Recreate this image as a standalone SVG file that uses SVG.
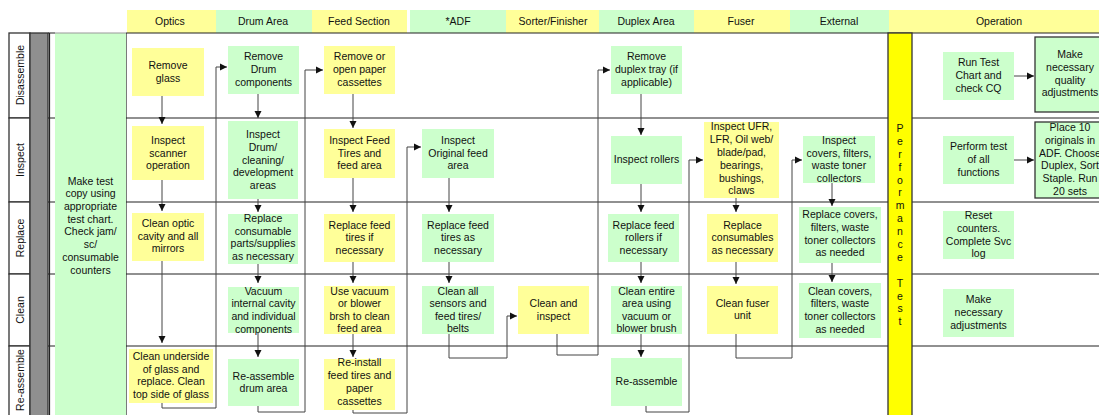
<svg xmlns="http://www.w3.org/2000/svg" width="1099" height="415" viewBox="0 0 1099 415">
<style>
.y{fill:#FFFF99}
.g{fill:#CCFFCC}
.t{font-family:"Liberation Sans",Arial,sans-serif;font-size:10.5px;text-anchor:middle;fill:#111}
.h{font-family:"Liberation Sans",Arial,sans-serif;font-size:10.5px;text-anchor:middle;fill:#111}
.grid{stroke:#222;stroke-width:1.2;fill:none}
.con{stroke:#444;stroke-width:1;fill:none}
.arr{stroke:#444;stroke-width:1;fill:none;marker-end:url(#ah)}
.bx{stroke:#333;stroke-width:1.3}
</style>
<defs>
<marker id="ah" markerWidth="8" markerHeight="8" refX="7" refY="4" orient="auto" markerUnits="userSpaceOnUse">
<path d="M0,0.5 L7,4 L0,7.5 z" fill="#111"/>
</marker>
</defs>
<rect width="1099" height="415" fill="#fff"/>

<g id="header">
<rect x="127" y="10" width="89" height="23" class="y"/>
<rect x="216" y="10" width="96" height="23" class="g"/>
<rect x="312" y="10" width="95" height="23" class="y"/>
<rect x="410" y="10" width="96" height="23" class="g"/>
<rect x="506" y="10" width="93" height="23" class="y"/>
<rect x="599" y="10" width="95" height="23" class="g"/>
<rect x="694" y="10" width="96" height="23" class="y"/>
<rect x="790" y="10" width="99" height="23" class="g"/>
<rect x="889" y="10" width="210" height="23" class="y"/>
<text class="h" x="170" y="25">Optics</text>
<text class="h" x="263" y="25">Drum Area</text>
<text class="h" x="359" y="25">Feed Section</text>
<text class="h" x="458" y="25">*ADF</text>
<text class="h" x="553" y="25">Sorter/Finisher</text>
<text class="h" x="646" y="25">Duplex Area</text>
<text class="h" x="741" y="25">Fuser</text>
<text class="h" x="839" y="25">External</text>
<text class="h" x="999" y="25">Operation</text>
</g>

<g id="lanes">
<rect x="9" y="33" width="21" height="85" fill="#fff" class="bx"/>
<rect x="9" y="118" width="21" height="84" fill="#fff" class="bx"/>
<rect x="9" y="202" width="21" height="72" fill="#fff" class="bx"/>
<rect x="9" y="274" width="21" height="72" fill="#fff" class="bx"/>
<rect x="9" y="346" width="21" height="72" fill="#fff" class="bx"/>
<rect x="30" y="33" width="18" height="385" fill="#8f8f8f" class="bx"/>
<path class="grid" d="M49.5,33 V415 M48,33 H55 M48,118 H55 M48,202 H55 M48,274 H55 M48,346 H55"/>
<text class="h" font-size="10" transform="translate(23.5,75) rotate(-90)">Disassemble</text>
<text class="h" font-size="10" transform="translate(23.5,160) rotate(-90)">Inspect</text>
<text class="h" font-size="10" transform="translate(23.5,238) rotate(-90)">Replace</text>
<text class="h" font-size="10" transform="translate(23.5,310) rotate(-90)">Clean</text>
<text class="h" font-size="10" transform="translate(23.5,380) rotate(-90)">Re-assemble</text>
<path class="grid" d="M126,33 H1099 M126,118 H1099 M126,202 H1099 M126,274 H1099 M126,346 H1099 M126,33 V415"/>
</g>

<g id="n-maketest">
<rect x="55" y="33" width="71" height="382" class="g"/>
<path d="M55,33 H126" stroke="#999" stroke-width="1"/>
<text class="t"><tspan x="90.5" y="184.8">Make test</tspan><tspan x="90.5" y="196.8">copy using</tspan><tspan x="90.5" y="209.8">appropriate</tspan><tspan x="90.5" y="222.8">test chart.</tspan><tspan x="90.5" y="234.8">Check jam/</tspan><tspan x="90.5" y="247.8">sc/</tspan><tspan x="90.5" y="260.8">consumable</tspan><tspan x="90.5" y="273.8">counters</tspan></text>
</g>

<g id="n-perftest">
<rect x="888" y="33" width="24" height="385" fill="#FFFF00" class="bx"/>
<text class="t"><tspan x="900" y="131.8">P</tspan><tspan x="900" y="144.8">e</tspan><tspan x="900" y="157.8">r</tspan><tspan x="900" y="170.8">f</tspan><tspan x="900" y="183.8">o</tspan><tspan x="900" y="195.8">r</tspan><tspan x="900" y="208.8">m</tspan><tspan x="900" y="221.8">a</tspan><tspan x="900" y="234.8">n</tspan><tspan x="900" y="247.8">c</tspan><tspan x="900" y="260.8">e</tspan><tspan x="900" y="286.8">T</tspan><tspan x="900" y="299.8">e</tspan><tspan x="900" y="311.8">s</tspan><tspan x="900" y="324.8">t</tspan></text>
</g>

<g id="connectors">
<path class="arr" d="M162,96 V124"/>
<path class="arr" d="M162,180 V211"/>
<path class="arr" d="M162,261 V343"/>
<path class="arr" d="M258,94 V118"/>
<path class="arr" d="M258,199 V212"/>
<path class="arr" d="M258,264 V283"/>
<path class="arr" d="M258,333 V357"/>
<path class="arr" d="M353,94 V128"/>
<path class="arr" d="M353,178 V212"/>
<path class="arr" d="M353,262 V283"/>
<path class="arr" d="M353,334 V357"/>
<path class="arr" d="M449,178 V212"/>
<path class="arr" d="M449,262 V283"/>
<path class="arr" d="M641,94 V135"/>
<path class="arr" d="M641,184 V212"/>
<path class="arr" d="M641,262 V283"/>
<path class="arr" d="M641,334 V357"/>
<path class="arr" d="M736,198 V212"/>
<path class="arr" d="M736,262 V284"/>
<path class="arr" d="M832,183 V206"/>
<path class="arr" d="M832,263 V282"/>
<path class="arr" d="M162,403 V408 H216 V67 H227"/>
<path class="arr" d="M258,406 V412 H305 V70 H323"/>
<path class="arr" d="M353,410 V413 H407 V147 H421"/>
<path class="arr" d="M449,334 V358 H507 V316 H517"/>
<path class="arr" d="M557,334 V355 H598 V70 H610"/>
<path class="arr" d="M646,406 V412 H689 V160 H703"/>
<path class="arr" d="M736,334 V358 H792 V160 H802"/>
<path class="arr" d="M1014,76 H1034"/>
<path class="arr" d="M1014,160 H1034"/>
</g>

<g id="n1"><rect x="132" y="48" width="72" height="48" class="y"/><text class="t"><tspan x="168" y="68.8">Remove</tspan><tspan x="168" y="81.8">glass</tspan></text></g>
<g id="n2"><rect x="132" y="126" width="72" height="54" class="y"/><text class="t"><tspan x="168" y="143.8">Inspect</tspan><tspan x="168" y="156.8">scanner</tspan><tspan x="168" y="168.8">operation</tspan></text></g>
<g id="n3"><rect x="132" y="213" width="72" height="48" class="y"/><text class="t"><tspan x="168" y="226.8">Clean optic</tspan><tspan x="168" y="239.8">cavity and all</tspan><tspan x="168" y="251.8">mirrors</tspan></text></g>
<g id="n4"><rect x="129" y="349" width="84" height="54" class="y"/><text class="t"><tspan x="171" y="359.8">Clean underside</tspan><tspan x="171" y="372.8">of glass and</tspan><tspan x="171" y="384.8">replace. Clean</tspan><tspan x="171" y="397.8">top side of glass</tspan></text></g>

<g id="n5"><rect x="228" y="46" width="71" height="48" class="g"/><text class="t"><tspan x="263.5" y="59.8">Remove</tspan><tspan x="263.5" y="72.8">Drum</tspan><tspan x="263.5" y="85.8">components</tspan></text></g>
<g id="n6"><rect x="228" y="121" width="70" height="78" class="g"/><text class="t"><tspan x="263" y="137.8">Inspect</tspan><tspan x="263" y="150.8">Drum/</tspan><tspan x="263" y="163.8">cleaning/</tspan><tspan x="263" y="175.8">development</tspan><tspan x="263" y="188.8">areas</tspan></text></g>
<g id="n7"><rect x="228" y="214" width="70" height="50" class="g"/><text class="t"><tspan x="263" y="221.8">Replace</tspan><tspan x="263" y="234.8">consumable</tspan><tspan x="263" y="246.8">parts/supplies</tspan><tspan x="263" y="259.8">as necessary</tspan></text></g>
<g id="n8"><rect x="228" y="287" width="71" height="46" class="g"/><text class="t"><tspan x="263.5" y="294.8">Vacuum</tspan><tspan x="263.5" y="306.8">internal cavity</tspan><tspan x="263.5" y="319.8">and individual</tspan><tspan x="263.5" y="332.8">components</tspan></text></g>
<g id="n9"><rect x="228" y="359" width="71" height="47" class="g"/><text class="t"><tspan x="263.5" y="379.8">Re-assemble</tspan><tspan x="263.5" y="391.8">drum area</tspan></text></g>

<g id="n10"><rect x="324" y="46" width="71" height="48" class="y"/><text class="t"><tspan x="359.5" y="59.8">Remove or</tspan><tspan x="359.5" y="72.8">open paper</tspan><tspan x="359.5" y="85.8">cassettes</tspan></text></g>
<g id="n11"><rect x="324" y="129" width="71" height="49" class="y"/><text class="t"><tspan x="359.5" y="143.8">Inspect Feed</tspan><tspan x="359.5" y="156.8">Tires and</tspan><tspan x="359.5" y="168.8">feed area</tspan></text></g>
<g id="n12"><rect x="324" y="214" width="71" height="48" class="y"/><text class="t"><tspan x="359.5" y="228.8">Replace feed</tspan><tspan x="359.5" y="240.8">tires if</tspan><tspan x="359.5" y="253.8">necessary</tspan></text></g>
<g id="n13"><rect x="324" y="286" width="71" height="48" class="y"/><text class="t"><tspan x="359.5" y="294.8">Use vacuum</tspan><tspan x="359.5" y="306.8">or blower</tspan><tspan x="359.5" y="319.8">brsh to clean</tspan><tspan x="359.5" y="331.8">feed area</tspan></text></g>
<g id="n14"><rect x="324" y="359" width="71" height="51" class="y"/><text class="t"><tspan x="359.5" y="365.8">Re-install</tspan><tspan x="359.5" y="378.8">feed tires and</tspan><tspan x="359.5" y="391.8">paper</tspan><tspan x="359.5" y="404.8">cassettes</tspan></text></g>

<g id="n15"><rect x="422" y="129" width="72" height="49" class="g"/><text class="t"><tspan x="458" y="143.8">Inspect</tspan><tspan x="458" y="156.8">Original feed</tspan><tspan x="458" y="168.8">area</tspan></text></g>
<g id="n16"><rect x="422" y="214" width="72" height="48" class="g"/><text class="t"><tspan x="458" y="228.8">Replace feed</tspan><tspan x="458" y="240.8">tires as</tspan><tspan x="458" y="253.8">necessary</tspan></text></g>
<g id="n17"><rect x="422" y="286" width="72" height="48" class="g"/><text class="t"><tspan x="458" y="294.8">Clean all</tspan><tspan x="458" y="306.8">sensors and</tspan><tspan x="458" y="319.8">feed tires/</tspan><tspan x="458" y="331.8">belts</tspan></text></g>

<g id="n18"><rect x="518" y="286" width="71" height="48" class="y"/><text class="t"><tspan x="553.5" y="306.8">Clean and</tspan><tspan x="553.5" y="319.8">inspect</tspan></text></g>

<g id="n19"><rect x="611" y="46" width="71" height="48" class="g"/><text class="t"><tspan x="646.5" y="59.8">Remove</tspan><tspan x="646.5" y="72.8">duplex tray (if</tspan><tspan x="646.5" y="85.8">applicable)</tspan></text></g>
<g id="n20"><rect x="611" y="136" width="71" height="48" class="g"/><text class="t"><tspan x="646.5" y="162.8">Inspect rollers</tspan></text></g>
<g id="n21"><rect x="608" y="214" width="71" height="48" class="g"/><text class="t"><tspan x="643.5" y="228.8">Replace feed</tspan><tspan x="643.5" y="240.8">rollers if</tspan><tspan x="643.5" y="253.8">necessary</tspan></text></g>
<g id="n22"><rect x="611" y="286" width="71" height="48" class="g"/><text class="t"><tspan x="646.5" y="294.8">Clean entire</tspan><tspan x="646.5" y="306.8">area using</tspan><tspan x="646.5" y="319.8">vacuum or</tspan><tspan x="646.5" y="331.8">blower brush</tspan></text></g>
<g id="n23"><rect x="611" y="358" width="71" height="48" class="g"/><text class="t"><tspan x="646.5" y="384.8">Re-assemble</tspan></text></g>

<g id="n24"><rect x="704" y="122" width="75" height="76" class="y"/><text class="t"><tspan x="741.5" y="129.8">Inspect UFR,</tspan><tspan x="741.5" y="142.8">LFR, Oil web/</tspan><tspan x="741.5" y="155.8">blade/pad,</tspan><tspan x="741.5" y="168.8">bearings,</tspan><tspan x="741.5" y="181.8">bushings,</tspan><tspan x="741.5" y="193.8">claws</tspan></text></g>
<g id="n25"><rect x="707" y="214" width="71" height="48" class="y"/><text class="t"><tspan x="742.5" y="228.8">Replace</tspan><tspan x="742.5" y="240.8">consumables</tspan><tspan x="742.5" y="253.8">as necessary</tspan></text></g>
<g id="n26"><rect x="707" y="286" width="71" height="48" class="y"/><text class="t"><tspan x="742.5" y="306.8">Clean fuser</tspan><tspan x="742.5" y="318.8">unit</tspan></text></g>

<g id="n27"><rect x="803" y="136" width="72" height="47" class="g"/><text class="t"><tspan x="839" y="143.8">Inspect</tspan><tspan x="839" y="156.8">covers, filters,</tspan><tspan x="839" y="168.8">waste toner</tspan><tspan x="839" y="181.8">collectors</tspan></text></g>
<g id="n28"><rect x="799" y="207" width="82" height="56" class="g"/><text class="t"><tspan x="840" y="217.8">Replace covers,</tspan><tspan x="840" y="230.8">filters, waste</tspan><tspan x="840" y="243.8">toner collectors</tspan><tspan x="840" y="255.8">as needed</tspan></text></g>
<g id="n29"><rect x="799" y="283" width="82" height="55" class="g"/><text class="t"><tspan x="840" y="294.8">Clean covers,</tspan><tspan x="840" y="306.8">filters, waste</tspan><tspan x="840" y="319.8">toner collectors</tspan><tspan x="840" y="332.8">as needed</tspan></text></g>

<g id="n30"><rect x="943" y="52" width="71" height="48" class="g"/><text class="t"><tspan x="978.5" y="65.8">Run Test</tspan><tspan x="978.5" y="78.8">Chart and</tspan><tspan x="978.5" y="91.8">check CQ</tspan></text></g>
<g id="n31"><rect x="1035" y="37" width="72" height="75" class="g bx"/><text class="t"><tspan x="1070" y="57.8">Make</tspan><tspan x="1070" y="70.8">necessary</tspan><tspan x="1070" y="83.8">quality</tspan><tspan x="1070" y="95.8">adjustments</tspan></text></g>
<g id="n32"><rect x="943" y="136" width="71" height="48" class="g"/><text class="t"><tspan x="978.5" y="149.8">Perform test</tspan><tspan x="978.5" y="162.8">of all</tspan><tspan x="978.5" y="175.8">functions</tspan></text></g>
<g id="n33"><rect x="1035" y="122" width="72" height="76" class="g bx"/><text class="t"><tspan x="1070" y="130.8">Place 10</tspan><tspan x="1070" y="143.8">originals in</tspan><tspan x="1070" y="156.8">ADF. Choose</tspan><tspan x="1070" y="168.8">Duplex, Sort</tspan><tspan x="1070" y="181.8">Staple.  Run</tspan><tspan x="1070" y="194.8">20 sets</tspan></text></g>
<g id="n34"><rect x="943" y="211" width="71" height="48" class="g"/><text class="t"><tspan x="978.5" y="218.8">Reset</tspan><tspan x="978.5" y="231.8">counters.</tspan><tspan x="978.5" y="244.8">Complete Svc</tspan><tspan x="978.5" y="256.8">log</tspan></text></g>
<g id="n35"><rect x="943" y="289" width="71" height="48" class="g"/><text class="t"><tspan x="978.5" y="302.8">Make</tspan><tspan x="978.5" y="315.8">necessary</tspan><tspan x="978.5" y="328.8">adjustments</tspan></text></g>
</svg>
